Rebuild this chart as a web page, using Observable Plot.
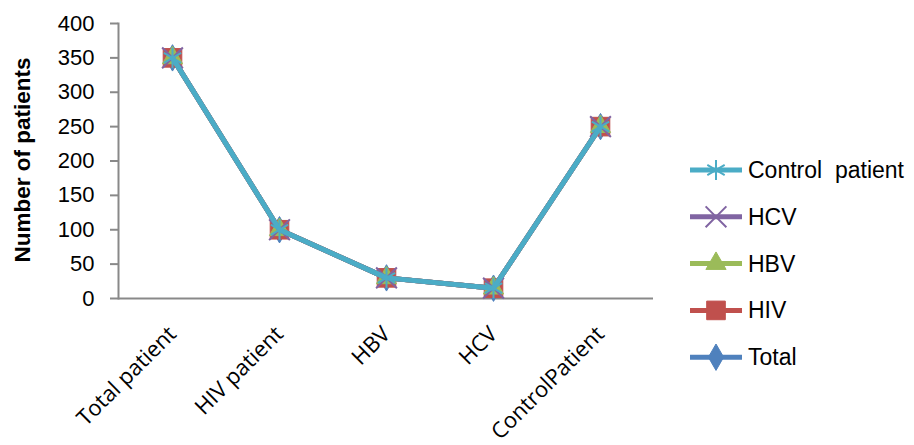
<!DOCTYPE html>
<html>
<head>
<meta charset="utf-8">
<script src="https://cdn.jsdelivr.net/npm/d3@7"></script>
<script src="https://cdn.jsdelivr.net/npm/@observablehq/plot@0.6"></script>
<style>
  html, body { margin: 0; padding: 0; background: #fff; }
  #chart { width: 914px; height: 445px; }
</style>
</head>
<body>
<div id="chart"></div>
<script>
// ---- data ----
const categories = ["Total patient", "HIV patient", "HBV", "HCV", "ControlPatient"];
const seriesNames = ["Total", "HIV", "HBV", "HCV", "Control  patient"];
const totalValues = [350, 100, 30, 15, 250];
const hivValues = [350, 100, 30, 15, 250];
const hbvValues = [350, 100, 30, 15, 250];
const hcvValues = [350, 100, 30, 15, 250];
const controlValues = [350, 100, 30, 15, 250];
const seriesColors = ["#4F81BD", "#C0504D", "#9BBB59", "#8064A2", "#4BACC6"];
const seriesSymbols = ["diamond", "square", "triangle", "times", "asterisk"];
const seriesRadius = [8, 10.5, 7.5, 9.5, 9.5];
const yTicks = [0, 50, 100, 150, 200, 250, 300, 350, 400];
const yLabel = "Number of patients";

const seriesValues = [totalValues, hivValues, hbvValues, hcvValues, controlValues];
const rows = seriesNames.map((name, s) =>
  categories.map((c, i) => ({series: name, category: c, value: seriesValues[s][i]}))
);

const axisGray = "#898989";
const marks = [
  Plot.ruleY([0], {stroke: axisGray, strokeWidth: 2}),
  Plot.frame({anchor: "left", stroke: axisGray, strokeWidth: 2}),
  Plot.axisY({ticks: yTicks, tickSize: 8, tickPadding: 16, stroke: axisGray, strokeWidth: 2,
    fill: "#000", fontSize: 22, fontFamily: "Liberation Sans, Arial, sans-serif", label: null}),
  Plot.axisX({tickRotate: -45, tickSize: 0, tickPadding: 32, fill: "#000",
    fontSize: 22, fontFamily: "Open Sans, sans-serif", label: null})
];
rows.forEach((data, s) => {
  const stroked = seriesSymbols[s] === "times" || seriesSymbols[s] === "asterisk";
  marks.push(Plot.lineY(data, {x: "category", y: "value", stroke: seriesColors[s], strokeWidth: 5}));
  marks.push(Plot.dot(data, {x: "category", y: "value", symbol: () => seriesSymbols[s],
    r: seriesRadius[s],
    fill: stroked ? "none" : seriesColors[s],
    stroke: seriesColors[s], strokeWidth: stroked ? 2 : 1}));
});

const chart = Plot.plot({
  width: 914, height: 445,
  marginLeft: 118, marginRight: 261, marginTop: 23, marginBottom: 147,
  style: {fontFamily: "Liberation Sans, Arial, sans-serif", background: "#fff"},
  x: {type: "point", domain: categories, padding: 0.5},
  y: {domain: [0, 400]},
  symbol: {type: "identity"},
  marks
});
document.getElementById("chart").appendChild(chart);

// ---- y label and legend ----
const svg = d3.select(chart);
svg.append("text")
  .attr("transform", "translate(22,160) rotate(-90)")
  .attr("text-anchor", "middle").attr("dy", "0.35em")
  .style("font-family", "Liberation Sans, Arial, sans-serif")
  .style("font-size", "22.5px").style("font-weight", "bold").attr("fill", "#000")
  .text(yLabel);

const symbolMap = {diamond: d3.symbolDiamond, square: d3.symbolSquare, triangle: d3.symbolTriangle,
  times: d3.symbolTimes, asterisk: d3.symbolAsterisk};
const legendOrder = [4, 3, 2, 1, 0];
const lg = svg.append("g").attr("text-anchor", "start");
legendOrder.forEach((s, k) => {
  const y = 170 + k * 46.8;
  const g = lg.append("g").attr("transform", `translate(0,${y})`);
  g.append("line").attr("x1", 690).attr("x2", 742).attr("y1", 0).attr("y2", 0)
    .attr("stroke", seriesColors[s]).attr("stroke-width", 5);
  const stroked = seriesSymbols[s] === "times" || seriesSymbols[s] === "asterisk";
  g.append("path").attr("transform", "translate(716,0)")
    .attr("d", d3.symbol(symbolMap[seriesSymbols[s]], Math.PI * seriesRadius[s] ** 2)())
    .attr("fill", stroked ? "none" : seriesColors[s])
    .attr("stroke", seriesColors[s]).attr("stroke-width", stroked ? 2 : 1);
  g.append("text").attr("x", 748).attr("y", 0).attr("dy", "0.35em")
    .attr("text-anchor", "start")
    .style("font-family", "Liberation Sans, Arial, sans-serif").style("font-size", "23px")
    .style("white-space", "pre").attr("xml:space", "preserve").attr("fill", "#000")
    .text(seriesNames[s]);
});
</script>
</body>
</html>
